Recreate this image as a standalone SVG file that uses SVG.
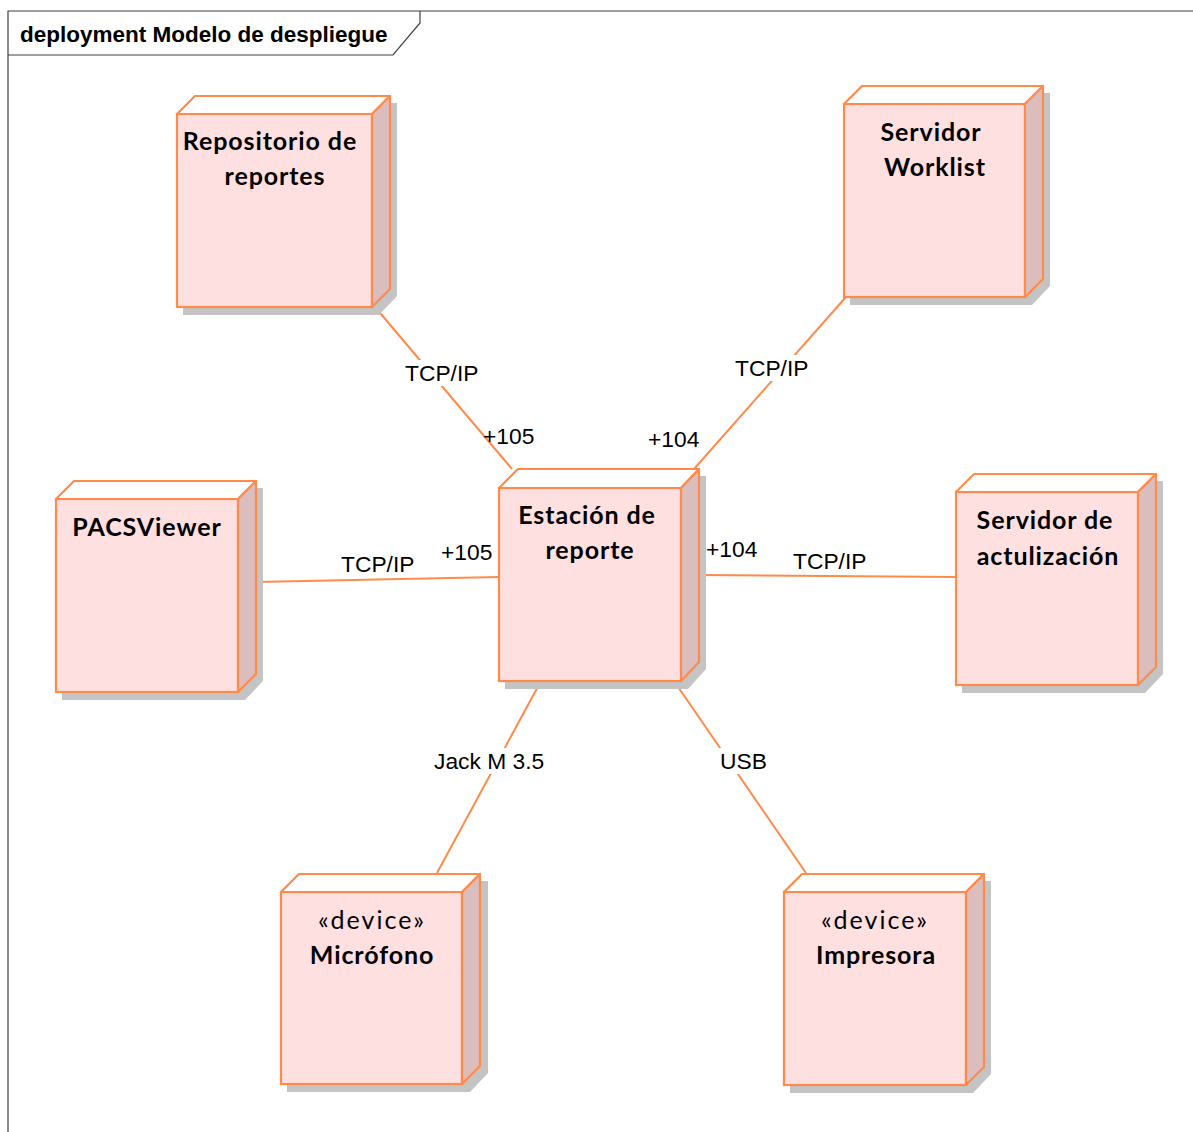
<svg xmlns="http://www.w3.org/2000/svg" width="1193" height="1132" viewBox="0 0 1193 1132">
<style>
.frame{fill:none;stroke:#404040;stroke-width:1.2}
.shadow{fill:#c4c4c4;stroke:none}
.front{fill:#ffe0e1;stroke:#ff8a4a;stroke-width:2.2}
.top{fill:#ffffff;stroke:#ff8a4a;stroke-width:2.2;stroke-linejoin:round}
.side{fill:#dcbdbe;stroke:#ff8a4a;stroke-width:2.2;stroke-linejoin:round}
.name{font-family:Lato,"Open Sans",sans-serif;font-weight:bold;font-size:25px;fill:#000;text-anchor:middle;letter-spacing:0.9px}
.stereo{font-family:Lato,"Open Sans",sans-serif;font-size:25px;fill:#000;text-anchor:middle;letter-spacing:2px}
.conn line{stroke:#ff8a4a;stroke-width:2}
.lbl{font-family:"Liberation Sans",Arial,sans-serif;font-size:22.8px;fill:#000}
.bg{fill:#ffffff}
.title{font-family:"Liberation Sans",Arial,sans-serif;font-weight:bold;font-size:22.5px;fill:#000}
</style>

<g id="frame">
<path class="frame" d="M8,1132 V11 H1193"/>
<path class="frame" d="M8,55 H393 L420,23 V11"/>
<text class="title" x="20" y="42">deployment Modelo de despliegue</text>
</g>

<g id="connectors" class="conn">
<line x1="375" y1="307" x2="512" y2="469"/>
<line x1="846" y1="297" x2="694" y2="469"/>
<line x1="256" y1="582" x2="499" y2="577"/>
<line x1="699" y1="575" x2="956" y2="577"/>
<line x1="541" y1="681" x2="437" y2="873"/>
<line x1="674" y1="681" x2="806" y2="873"/>
</g>

<g id="connector-labels">
<rect class="bg" x="403" y="360" width="80" height="26"/>
<text class="lbl" x="405" y="381">TCP/IP</text>
<text class="lbl" x="483" y="444">+105</text>
<rect class="bg" x="733" y="355" width="80" height="26"/>
<text class="lbl" x="735" y="376">TCP/IP</text>
<text class="lbl" x="648" y="447">+104</text>
<text class="lbl" x="341" y="572">TCP/IP</text>
<text class="lbl" x="441" y="560">+105</text>
<text class="lbl" x="706" y="557">+104</text>
<text class="lbl" x="793" y="569">TCP/IP</text>
<rect class="bg" x="432" y="748" width="114" height="26"/>
<text class="lbl" x="434" y="769">Jack M 3.5</text>
<rect class="bg" x="718" y="748" width="50" height="26"/>
<text class="lbl" x="720" y="769">USB</text>
</g>

<g id="node-repositorio">
<polygon class="shadow" points="183,121 201,103 397,103 397,296 379,315 183,315"/>
<rect class="front" x="177" y="114" width="195" height="193"/>
<polygon class="top" points="177,114 195,96 390,96 372,114"/>
<polygon class="side" points="372,114 390,96 390,289 372,307"/>
<text class="name" x="270" y="150">Repositorio de</text>
<text class="name" x="275" y="185">reportes</text>
</g>

<g id="node-worklist">
<polygon class="shadow" points="850,111 868,93 1050,93 1050,286 1032,305 850,305"/>
<rect class="front" x="844" y="104" width="181" height="193"/>
<polygon class="top" points="844,104 862,86 1043,86 1025,104"/>
<polygon class="side" points="1025,104 1043,86 1043,279 1025,297"/>
<text class="name" x="931" y="141">Servidor</text>
<text class="name" x="935" y="176">Worklist</text>
</g>

<g id="node-estacion">
<polygon class="shadow" points="505,495 523,476 706,476 706,669 688,689 505,689"/>
<rect class="front" x="499" y="488" width="182" height="193"/>
<polygon class="top" points="499,488 518,469 699,469 681,488"/>
<polygon class="side" points="681,488 699,469 699,662 681,681"/>
<text class="name" x="587" y="524">Estación de</text>
<text class="name" x="590" y="559">reporte</text>
</g>

<g id="node-pacsviewer">
<polygon class="shadow" points="62,506 80,488 263,488 263,681 245,700 62,700"/>
<rect class="front" x="56" y="499" width="182" height="193"/>
<polygon class="top" points="56,499 74,481 256,481 238,499"/>
<polygon class="side" points="238,499 256,481 256,674 238,692"/>
<text class="name" x="147" y="536">PACSViewer</text>
</g>

<g id="node-actualizacion">
<polygon class="shadow" points="962,499 980,481 1163,481 1163,674 1145,693 962,693"/>
<rect class="front" x="956" y="492" width="182" height="193"/>
<polygon class="top" points="956,492 974,474 1156,474 1138,492"/>
<polygon class="side" points="1138,492 1156,474 1156,667 1138,685"/>
<text class="name" x="1045" y="529">Servidor de</text>
<text class="name" x="1048" y="565">actulización</text>
</g>

<g id="node-microfono">
<polygon class="shadow" points="287,899 305,881 488,881 488,1073 470,1092 287,1092"/>
<rect class="front" x="281" y="892" width="181" height="192"/>
<polygon class="top" points="281,892 299,874 480,874 462,892"/>
<polygon class="side" points="462,892 480,874 480,1066 462,1084"/>
<text class="stereo" x="372" y="929">«device»</text>
<text class="name" x="372" y="964">Micrófono</text>
</g>

<g id="node-impresora">
<polygon class="shadow" points="790,899 808,881 991,881 991,1074 973,1093 790,1093"/>
<rect class="front" x="784" y="892" width="182" height="193"/>
<polygon class="top" points="784,892 802,874 984,874 966,892"/>
<polygon class="side" points="966,892 984,874 984,1067 966,1085"/>
<text class="stereo" x="875" y="929">«device»</text>
<text class="name" x="876" y="964">Impresora</text>
</g>
</svg>
